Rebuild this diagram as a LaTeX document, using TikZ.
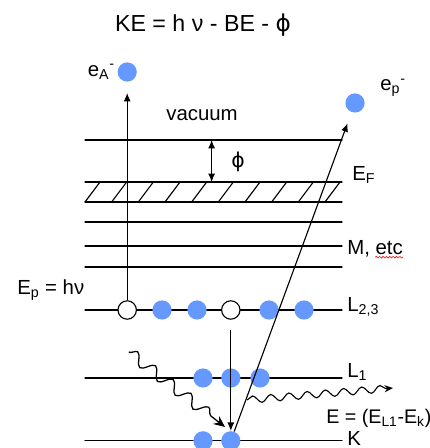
\documentclass[tikz,border=0pt]{standalone}
\usepackage{fontspec}
\setmainfont{Liberation Sans}
\newfontfamily\greekfont{DejaVu Sans}
\usepackage{tkz-euclide}
\usetikzlibrary{arrows.meta,calc,decorations.pathmorphing}
\definecolor{ElecClr}{RGB}{102,153,255}
\newcommand{\phisym}{{\greekfont ϕ}}
\tikzset{
  lbl/.style={font=\fontsize{14.5}{17}\selectfont,inner sep=0pt},
  ttl/.style={font=\fontsize{16.5}{19}\selectfont,inner sep=0pt},
  elec/.style={circle,fill=ElecClr,minimum size=0.48cm,inner sep=0pt},
  hole/.style={circle,draw=black,fill=white,line width=0.8pt,minimum size=0.46cm,inner sep=0pt},
  arr/.style={line width=0.8pt,-{Latex[length=6pt,width=5pt]}},
  dblarr/.style={line width=0.8pt,{Latex[length=6pt,width=5pt]}-{Latex[length=6pt,width=5pt]}},
  hatch/.style={line width=0.8pt},
  photon/.style={line width=0.9pt,-{Stealth[length=8pt,width=7pt]},decorate,
    decoration={snake,amplitude=4pt,segment length=16pt,post length=7pt}},
  xray/.style={line width=0.8pt,-{Stealth[length=6pt,width=5pt]},decorate,
    decoration={snake,amplitude=2.5pt,segment length=13pt,post length=5pt}},
  squiggle/.style={red,line width=0.4pt,decorate,
    decoration={snake,amplitude=0.6pt,segment length=2.4pt}}
}

\begin{document}
\begin{tikzpicture}
\useasboundingbox (0,0) rectangle (10.75,11.2);
\tkzSetUpLine[line width=0.8pt,color=black]

\tkzDefPoints{2.125/7.7/VacL,8.55/7.7/VacR,
  2.125/6.65/FermiL,8.55/6.65/FermiR,
  2.125/6.15/BandL,8.55/6.15/BandR,
  2.125/5.65/MaL,8.55/5.65/MaR,
  2.125/5.05/MbL,8.55/5.05/MbR,
  2.125/4.525/McL,8.55/4.525/McR,
  2.125/3.45/LttL,8.55/3.45/LttR,
  2.125/1.75/LoneL,8.55/1.75/LoneR,
  2.125/0.18/KL,8.55/0.18/KR}

\tkzDrawSegments(VacL,VacR FermiL,FermiR BandL,BandR MaL,MaR MbL,MbR McL,McR)
\tkzDrawSegments(LttL,LttR LoneL,LoneR KL,KR)

\foreach \i in {0,...,9}
  \draw[hatch] ($(BandL)+(0.6667*\i,0)$) -- ++(0.375,0.5);

\node[hole] (Ha) at (3.18,3.45) {};
\node[elec] (Ea) at (4.05,3.45) {};
\node[elec] (Eb) at (4.925,3.45) {};
\node[hole] (Hb) at (5.77,3.45) {};
\node[elec] (Ec) at (6.725,3.45) {};
\node[elec] (Ed) at (7.6,3.45) {};

\node[elec] (La) at (5.075,1.75) {};
\node[elec] (Lb) at (5.77,1.75) {};
\node[elec] (Lc) at (6.5,1.75) {};

\node[elec] (Ka) at (5.075,0.18) {};
\node[elec] (Kb) at (5.77,0.18) {};

\node[elec] (eA) at (3.18,9.4) {};
\node[elec] (eP) at (8.875,8.625) {};

\coordinate (AugTop) at (3.18,8.875);
\coordinate (HbLow) at (5.77,2.95);
\coordinate (PhiTop) at (5.29,7.7);
\coordinate (PhiBot) at (5.29,6.65);
\coordinate (ePtip) at ($(Kb)!0.94!(eP)$);
\coordinate (PhStart) at (3.22,2.4);
\coordinate (PhEnd) at (5.625,0.525);
\coordinate (XrStart) at (6.175,1.2);
\coordinate (XrEnd) at (9.825,1.5);
\coordinate (EtcL) at (9.38,4.77);
\coordinate (EtcR) at (10.07,4.77);

\draw[arr] (Ha) -- (AugTop);
\draw[arr] (HbLow) -- (Kb);
\draw[arr] (Kb) -- (ePtip);
\draw[dblarr] (PhiTop) -- (PhiBot);
\draw[photon] (PhStart) -- (PhEnd);
\draw[xray] (XrStart) -- (XrEnd);

\node[ttl] (Title) at (5.075,10.575) {KE = h ν - BE - \phisym};
\node[lbl,anchor=east] (eAlbl) at (2.88,9.4) {e\textsubscript{A}\textsuperscript{-}};
\node[lbl,anchor=west] (ePlbl) at (9.5,9.0) {e\textsubscript{p}\textsuperscript{-}};
\node[lbl] (Vaclbl) at (5.05,8.325) {vacuum};
\node[lbl] (Philbl) at (5.95,7.15) {\phisym};
\node[lbl,anchor=west] (EFlbl) at (8.8,6.825) {E\textsubscript{F}};
\node[lbl,anchor=west] (Mlbl) at (8.675,4.975) {M, etc};
\draw[squiggle] (EtcL) -- (EtcR);
\node[lbl,anchor=west] (Eplbl) at (0.425,3.95) {E\textsubscript{p} = hν};
\node[lbl,anchor=west] (Lttlbl) at (8.675,3.525) {L\textsubscript{2,3}};
\node[lbl,anchor=west] (Lonelbl) at (8.675,1.9) {L\textsubscript{1}};
\node[lbl,anchor=west,font=\fontsize{14}{16}\selectfont] (Elbl) at (8.15,0.75) {E = (E\textsubscript{L1}-E\textsubscript{k})};
\node[lbl,anchor=west] (Klbl) at (8.675,0.25) {K};

\end{tikzpicture}
\end{document}
